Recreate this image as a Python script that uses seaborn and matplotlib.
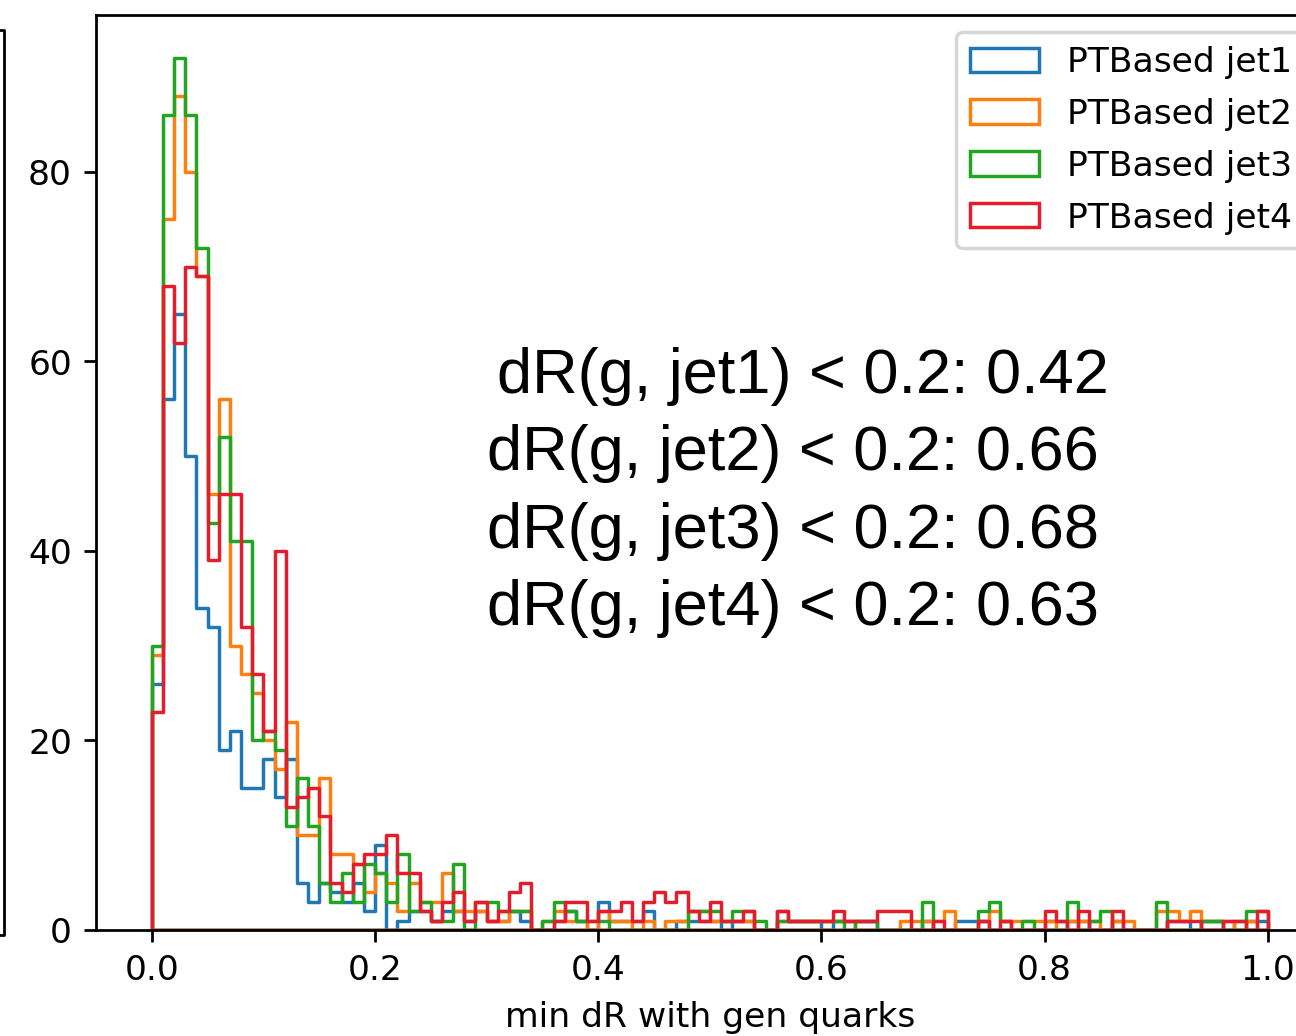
import numpy as np
import pandas as pd
import matplotlib
matplotlib.use("Agg")
import matplotlib.pyplot as plt
from matplotlib.patches import Patch
from matplotlib.lines import Line2D
import seaborn as sns

# ---- data: counts per bin (100 bins of width 0.01 on [0, 1]) ----
labels = ["PTBased jet1", "PTBased jet2", "PTBased jet3", "PTBased jet4"]
colors = ["#1f77b4", "#ff7f0e", "#22a522", "#e51c2c"]

jet1_counts = [26, 56, 65, 50, 34, 32, 19, 21, 15, 15,
               18, 14, 18, 5, 3, 5, 4, 3, 5, 2,
               9, 0, 1, 2, 2, 1, 2, 2, 1, 2,
               1, 1, 2, 1, 0, 0, 1, 2, 1, 0,
               3, 1, 1, 1, 2, 0, 0, 1, 1, 1,
               1, 0, 1, 1, 0, 0, 2, 1, 1, 1,
               0, 1, 1, 1, 1, 0, 0, 0, 0, 1,
               0, 0, 1, 1, 1, 0, 0, 0, 0, 0,
               1, 1, 1, 1, 0, 0, 1, 0, 0, 0,
               0, 1, 1, 0, 1, 1, 0, 1, 1, 1]
jet2_counts = [29, 75, 88, 80, 69, 46, 56, 30, 27, 25,
               20, 17, 22, 10, 10, 16, 8, 8, 7, 4,
               6, 5, 2, 5, 3, 3, 6, 2, 2, 2,
               1, 1, 2, 2, 0, 1, 2, 1, 1, 0,
               2, 1, 1, 0, 1, 0, 1, 1, 2, 2,
               1, 1, 1, 1, 0, 0, 1, 1, 1, 1,
               1, 1, 1, 0, 0, 0, 0, 1, 1, 1,
               1, 2, 0, 0, 1, 2, 1, 1, 1, 1,
               1, 0, 1, 1, 1, 0, 1, 1, 0, 0,
               2, 2, 1, 2, 1, 1, 1, 0, 1, 0]
jet3_counts = [30, 86, 92, 86, 72, 43, 52, 41, 41, 20,
               21, 19, 11, 16, 11, 5, 3, 6, 3, 7,
               6, 3, 8, 2, 3, 1, 1, 7, 0, 3,
               3, 2, 2, 2, 0, 1, 3, 2, 1, 1,
               1, 0, 0, 0, 0, 0, 0, 0, 2, 2,
               2, 1, 2, 2, 1, 0, 1, 1, 1, 1,
               1, 1, 0, 1, 1, 0, 0, 0, 0, 3,
               0, 0, 0, 0, 2, 3, 1, 0, 1, 0,
               0, 0, 3, 0, 1, 2, 0, 0, 0, 0,
               3, 0, 0, 0, 1, 1, 0, 0, 2, 2]
jet4_counts = [23, 68, 62, 70, 69, 39, 46, 46, 32, 27,
               21, 40, 13, 14, 15, 12, 5, 4, 7, 8,
               8, 10, 6, 6, 2, 1, 3, 4, 1, 3,
               1, 2, 4, 5, 0, 0, 1, 3, 3, 1,
               2, 2, 3, 1, 3, 4, 3, 4, 2, 1,
               3, 1, 1, 2, 0, 0, 2, 1, 1, 1,
               1, 2, 1, 1, 1, 2, 2, 2, 0, 0,
               1, 0, 0, 0, 1, 0, 1, 0, 0, 0,
               2, 1, 0, 2, 0, 0, 2, 0, 0, 0,
               0, 1, 1, 1, 0, 0, 1, 1, 0, 2]

fractions = ["0.42", "0.66", "0.68", "0.63"]
n_bins = 100
bin_lo, bin_hi = 0.0, 1.0
bin_centers = (np.arange(n_bins) + 0.5) / n_bins

series = [jet1_counts, jet2_counts, jet3_counts, jet4_counts]

DPI = 248
fig = plt.figure(figsize=(5.2262, 4.1776), dpi=DPI)
ax = fig.add_axes([96 / 1296, 106 / 1036, 1227.6 / 1296, 915.3 / 1036])

for lab, col, counts in zip(labels, colors, series):
    df = pd.DataFrame({"x": bin_centers, "w": counts})
    sns.histplot(data=df, x="x", weights="w", bins=n_bins, binrange=(bin_lo, bin_hi),
                 element="step", fill=True, color=col, facecolor="none",
                 linewidth=1.0, ax=ax)

ax.set_xlim(-0.05, 1.05)
ax.set_ylim(0, 96.6)
ax.set_xticks([0.0, 0.2, 0.4, 0.6, 0.8, 1.0])
ax.set_yticks([0, 20, 40, 60, 80])
ax.set_xlabel("min dR with gen quarks")
ax.set_ylabel("")

handles = [Patch(facecolor="none", edgecolor=c, linewidth=1.0, label=l)
           for l, c in zip(labels, colors)]
ax.legend(handles=handles, loc="upper right", labelspacing=0.55,
          bbox_to_anchor=(1 - 1 / 1227.6, 1.0))

# annotation lines
x_pos = [497, 487, 487, 487]
y_base = [393, 470, 548, 625]
for i, (fr, xp, yb) in enumerate(zip(fractions, x_pos, y_base)):
    fig.text(xp / 1296, 1 - yb / 1036, f"dR(g, jet{i+1}) < 0.2: {fr}",
             fontsize=18.35, family="Liberation Sans", ha="left", va="baseline")

# sliver of neighbouring panel at the left edge
fig.add_artist(Line2D([0, 4 / 1296, 4 / 1296, 0],
                      [1 - 30 / 1036, 1 - 30 / 1036, 1 - 935 / 1036, 1 - 935 / 1036],
                      color="black", linewidth=0.8, transform=fig.transFigure))

fig.savefig("out.png", dpi=DPI)
